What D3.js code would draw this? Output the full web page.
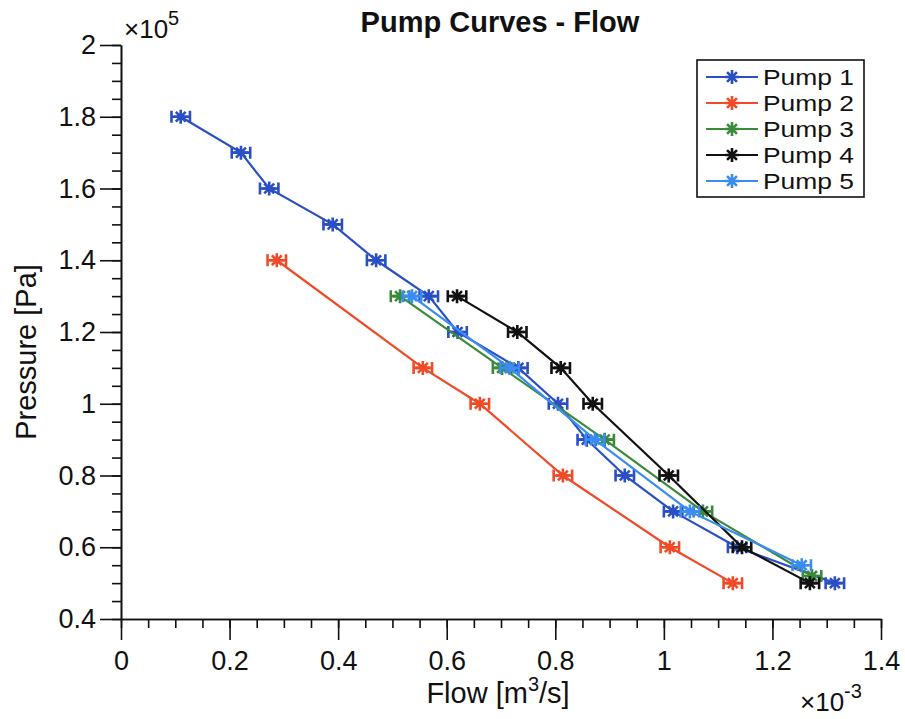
<!DOCTYPE html>
<html>
<head>
<meta charset="utf-8">
<script src="https://cdn.jsdelivr.net/npm/d3@7"></script>
<style>
  body { margin: 0; background: #fff; }
  svg text { font-family: "Liberation Sans", Arial, Helvetica, sans-serif; fill: #111; }
</style>
</head>
<body>
<svg id="chart" width="905" height="719"></svg>
<script>
// flow in 1e-3 m^3/s, pressure in 1e5 Pa
const pumpNames = ["Pump 1", "Pump 2", "Pump 3", "Pump 4", "Pump 5"]
const pumpColors = ["#2a4fc4", "#f04a26", "#3a8a3a", "#111111", "#3a8cf2"]

const pump1Flow = [0.11, 0.221, 0.273, 0.39, 0.47, 0.567, 0.62, 0.732, 0.805, 0.858, 0.928, 1.017, 1.135, 1.315]
const pump1Pres = [1.8, 1.7, 1.6, 1.5, 1.4, 1.3, 1.2, 1.1, 1.0, 0.9, 0.8, 0.7, 0.6, 0.5]
const pump2Flow = [0.287, 0.556, 0.661, 0.814, 1.011, 1.127]
const pump2Pres = [1.4, 1.1, 1.0, 0.8, 0.6, 0.5]
const pump3Flow = [0.514, 0.702, 0.891, 1.072, 1.273]
const pump3Pres = [1.3, 1.1, 0.9, 0.7, 0.52]
const pump4Flow = [0.619, 0.73, 0.81, 0.869, 1.009, 1.144, 1.269]
const pump4Pres = [1.3, 1.2, 1.1, 1.0, 0.8, 0.6, 0.5]
const pump5Flow = [0.536, 0.716, 0.873, 1.048, 1.254]
const pump5Pres = [1.3, 1.1, 0.9, 0.7, 0.55]
const flowErr = 0.017

const xTicks = [0, 0.2, 0.4, 0.6, 0.8, 1, 1.2, 1.4]
const yTicks = [0.4, 0.6, 0.8, 1, 1.2, 1.4, 1.6, 1.8, 2]

const flows = [pump1Flow, pump2Flow, pump3Flow, pump4Flow, pump5Flow]
const pres = [pump1Pres, pump2Pres, pump3Pres, pump4Pres, pump5Pres]

const svg = d3.select("#chart")
const x = d3.scaleLinear().domain([0, 1.4]).range([121, 881])
const y = d3.scaleLinear().domain([0.4, 2]).range([619, 45])

// axes: major + minor ticks, outward
const minorX = d3.range(0, 1.4001, 0.05)
const minorY = d3.range(0.4, 2.0001, 0.05)

svg.append("g").attr("transform", "translate(0,619)")
  .call(d3.axisBottom(x).tickValues(minorX).tickSize(9).tickSizeOuter(0).tickFormat(""))
svg.append("g").attr("transform", "translate(0,619)")
  .call(d3.axisBottom(x).tickValues(xTicks).tickSize(21).tickSizeOuter(0).tickPadding(11)
    .tickFormat(d => d3.format("~g")(d)))
svg.append("g").attr("transform", "translate(121,0)")
  .call(d3.axisLeft(y).tickValues(minorY).tickSize(9).tickSizeOuter(0).tickFormat(""))
svg.append("g").attr("transform", "translate(121,0)")
  .call(d3.axisLeft(y).tickValues(yTicks).tickSize(21).tickSizeOuter(0).tickPadding(4)
    .tickFormat(d => d3.format("~g")(d)))

svg.selectAll(".domain, .tick line").attr("stroke", "#111").attr("stroke-width", 1.6)
svg.selectAll(".tick text").attr("font-size", 27).attr("fill", "#111")
  .attr("font-family", "Liberation Sans, Arial, sans-serif")

// lines
const line = d3.line().x(d => x(d[0])).y(d => y(d[1]))

function star(g, cx, cy, color) {
  const r = 7
  const a = r * 0.7071
  g.append("path")
    .attr("d", `M${cx - r},${cy}H${cx + r}M${cx},${cy - r}V${cy + r}` +
      `M${cx - a},${cy - a}L${cx + a},${cy + a}M${cx - a},${cy + a}L${cx + a},${cy - a}`)
    .attr("stroke", color).attr("stroke-width", 2.6).attr("fill", "none")
}

flows.forEach((fl, i) => {
  const pts = fl.map((f, j) => [f, pres[i][j]])
  const g = svg.append("g")
  g.append("path").datum(pts).attr("d", line)
    .attr("fill", "none").attr("stroke", pumpColors[i]).attr("stroke-width", 2.2)
  pts.forEach(p => {
    const px = x(p[0]), py = y(p[1])
    const x0 = x(p[0] - flowErr), x1 = x(p[0] + flowErr)
    g.append("path")
      .attr("d", `M${x0},${py}H${x1}M${x0},${py - 6}V${py + 6}M${x1},${py - 6}V${py + 6}`)
      .attr("stroke", pumpColors[i]).attr("stroke-width", 2.6).attr("fill", "none")
    star(g, px, py, pumpColors[i])
  })
})

// legend
const leg = svg.append("g")
leg.append("rect").attr("x", 697).attr("y", 60).attr("width", 167).attr("height", 137)
  .attr("fill", "#fff").attr("stroke", "#111").attr("stroke-width", 1.6)
pumpNames.forEach((n, i) => {
  const ly = 77 + i * 26
  leg.append("line").attr("x1", 706).attr("x2", 758).attr("y1", ly).attr("y2", ly)
    .attr("stroke", pumpColors[i]).attr("stroke-width", 2.2)
  star(leg, 732, ly, pumpColors[i])
  leg.append("text").attr("transform", `translate(763,${ly + 8}) scale(1.2,1)`)
    .attr("font-size", 22).text(n)
})

// title and labels
svg.append("text").attr("x", 500).attr("y", 32).attr("text-anchor", "middle")
  .attr("font-size", 29).attr("font-weight", "bold").text("Pump Curves - Flow")

const ex5 = svg.append("text").attr("x", 124).attr("y", 38).attr("font-size", 26)
ex5.append("tspan").text("×10")
ex5.append("tspan").attr("dy", -13).attr("font-size", 20).text("5")

const ex3 = svg.append("text").attr("x", 800).attr("y", 711).attr("font-size", 26)
ex3.append("tspan").text("×10")
ex3.append("tspan").attr("dy", -13).attr("font-size", 20).text("-3")

const xl = svg.append("text").attr("x", 498).attr("y", 703).attr("text-anchor", "middle")
  .attr("font-size", 29)
xl.append("tspan").text("Flow [m")
xl.append("tspan").attr("dy", -12).attr("font-size", 20).text("3")
xl.append("tspan").attr("dy", 12).text("/s]")

svg.append("text").attr("transform", "translate(36,352) rotate(-90)")
  .attr("text-anchor", "middle").attr("font-size", 29).text("Pressure [Pa]")
</script>
</body>
</html>
